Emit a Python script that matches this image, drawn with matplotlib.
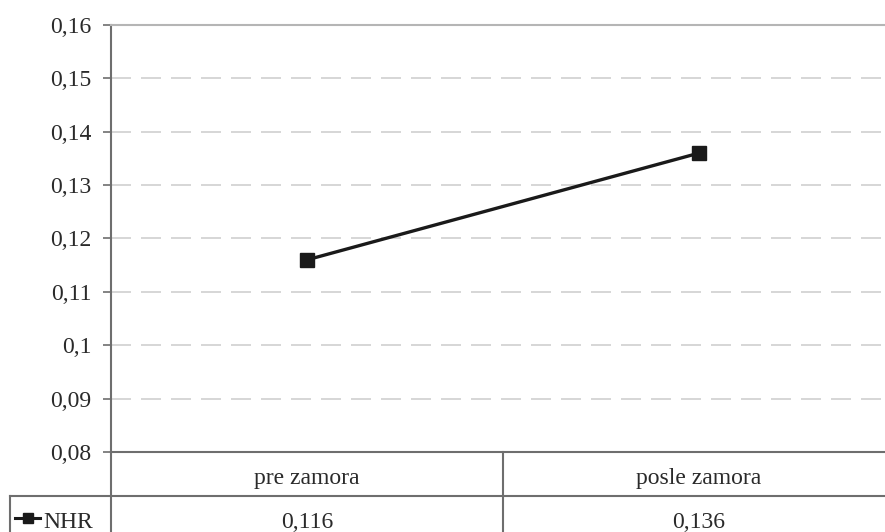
import matplotlib
matplotlib.use("Agg")
import matplotlib.pyplot as plt
import matplotlib.transforms as mtransforms

categories = ["pre zamora", "posle zamora"]
series_name = "NHR"
values = [0.116, 0.136]
value_labels = ["0,116", "0,136"]
y_ticks = [0.08, 0.09, 0.10, 0.11, 0.12, 0.13, 0.14, 0.15, 0.16]
y_tick_labels = ["0,08", "0,09", "0,1", "0,11", "0,12", "0,13", "0,14", "0,15", "0,16"]

plt.rcParams["font.family"] = ["Liberation Serif", "DejaVu Serif"]
text_color = "#2a2a2a"
frame_color = "#6e6e6e"
fs = 17

fig = plt.figure(figsize=(8.85, 5.32), dpi=100)
ax = fig.add_axes([0.1254, 0.1504, 0.8859, 0.8026])

x = list(range(len(categories)))
ax.plot(x, values, color="#1a1a1a", lw=2.4, marker="s", ms=9.5, zorder=3)

ax.set_xlim(-0.5, len(categories) - 0.5)
ax.set_ylim(y_ticks[0], y_ticks[-1])
ax.set_yticks(y_ticks)
ax.set_yticklabels(y_tick_labels, fontsize=fs, color=text_color)
ax.tick_params(axis="y", length=6, width=1.2, color=frame_color, pad=8)
ax.set_xticks([])

for y in y_ticks[1:-1]:
    ax.axhline(y, color="#cfcfcf", lw=1.2, ls=(0, (12, 6)), zorder=1)

ax.spines["left"].set_color(frame_color)
ax.spines["left"].set_linewidth(1.5)
ax.spines["top"].set_color("#b5b5b5")
ax.spines["top"].set_linewidth(1.5)
ax.spines["bottom"].set_color(frame_color)
ax.spines["bottom"].set_linewidth(1.5)
ax.spines["right"].set_visible(False)

# data table below the plot (Excel style)
trans = mtransforms.blended_transform_factory(ax.transData, ax.transAxes)
row_h = 44 / 427  # header row height in axes fraction
text_off = 2 / 427  # nudge text a little lower in its cell
left_col = -0.5 - 101 / 392  # legend column width in data units

line_kw = dict(color=frame_color, lw=1.5, transform=trans, clip_on=False)
# left spine continues through the table
ax.plot([-0.5, -0.5], [0, -2.5 * row_h], **line_kw)
# divider between categories
for i in range(1, len(categories)):
    ax.plot([i - 0.5, i - 0.5], [0, -2.5 * row_h], **line_kw)
# row separator and legend cell border
ax.plot([left_col, len(categories) - 0.5], [-row_h, -row_h], **line_kw)
ax.plot([left_col, left_col], [-row_h, -2.5 * row_h], **line_kw)

for i, cat in enumerate(categories):
    ax.text(i, -0.5 * row_h - text_off, cat, transform=trans, ha="center",
            va="center_baseline", fontsize=fs, color=text_color)
    ax.text(i, -1.5 * row_h - text_off, value_labels[i], transform=trans, ha="center",
            va="center_baseline", fontsize=fs, color=text_color)

# legend key inside the table
key_x0 = left_col + 0.013
key_x1 = left_col + 0.077
ax.plot([key_x0, key_x1], [-1.5 * row_h, -1.5 * row_h], color="#1a1a1a", lw=2.2,
        transform=trans, clip_on=False)
ax.plot([(key_x0 + key_x1) / 2], [-1.5 * row_h], marker="s", ms=7.5, color="#1a1a1a",
        transform=trans, clip_on=False)
ax.text(key_x1 + 0.008, -1.5 * row_h - text_off, series_name, transform=trans, ha="left",
        va="center_baseline", fontsize=fs, color=text_color)

fig.savefig("out.png", dpi=100)
